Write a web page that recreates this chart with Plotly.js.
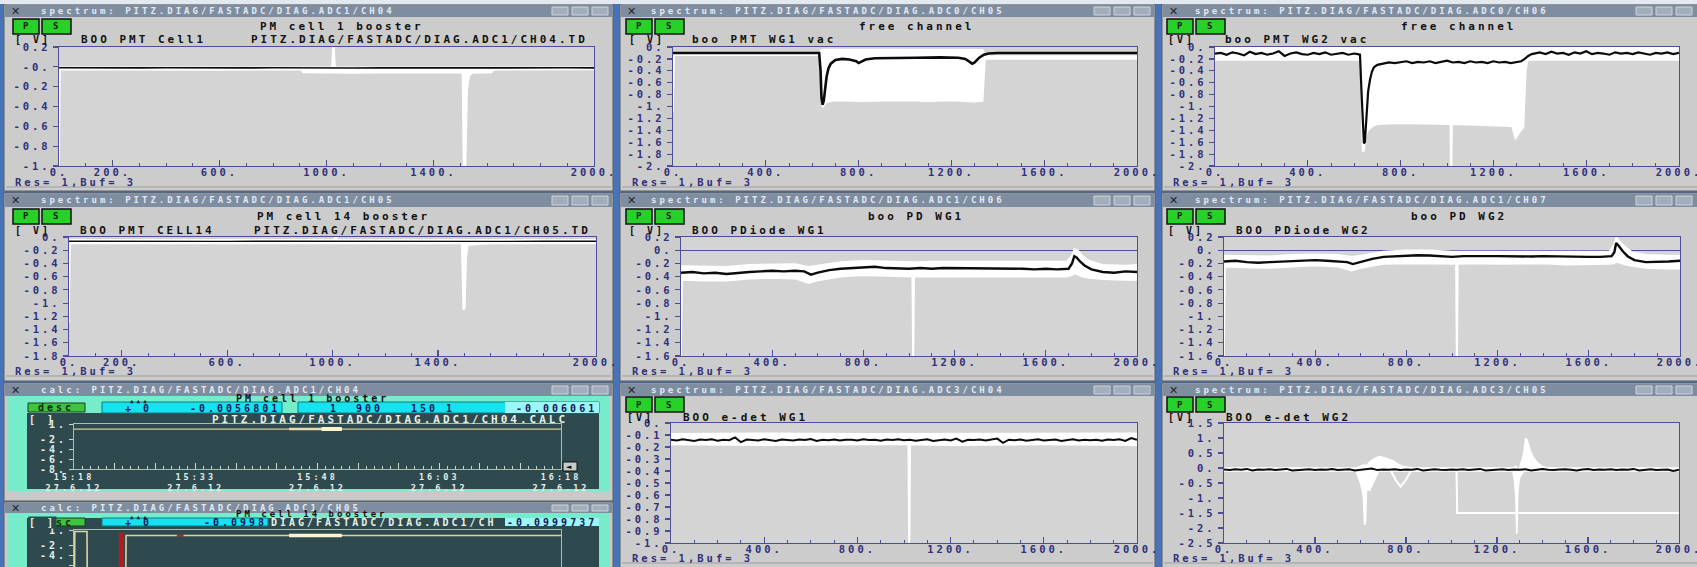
<!DOCTYPE html>
<html>
<head>
<meta charset="utf-8">
<script src="https://cdn.plot.ly/plotly-3.0.1.min.js"></script>
<style>
  html, body { margin: 0; padding: 0; background: #4774b8; overflow: hidden; }
  #chart { width: 1697px; height: 567px; }
  svg text { letter-spacing: 3px; white-space: pre; }
  .x7y7 .xtick text { letter-spacing: 0; }
</style>
</head>
<body>
<div id="chart"></div>
<script>
// ---------------- sample indices and recorded series ----------------
const sample25 = [0,25,50,75,100,125,150,175,200,225,250,275,300,325,350,375,400,425,450,475,500,525,550,575,600,625,650,675,700,725,750,775,800,825,850,875,900,925,950,975,1000,1025,1050,1075,1100,1125,1150,1175,1200,1225,1250,1275,1300,1325,1350,1375,1400,1425,1450,1475,1500,1525,1550,1575,1600,1625,1650,1675,1700,1725,1750,1775,1800,1825,1850,1875,1900,1925,1950,1975,2000];

// PM cell 1 booster
const p1X = [0,100,200,300,400,500,600,700,800,900,1000,1100,1200,1300,1400,1500,1600,1700,1800,1900,2000];
const p1Black = [-0.010,-0.012,-0.009,-0.011,-0.010,-0.012,-0.008,-0.011,-0.010,-0.013,-0.009,-0.012,-0.011,-0.010,-0.012,-0.009,-0.011,-0.010,-0.012,-0.010,-0.011];
const p1WX = [0,4,200,400,600,800,905,912,1000,1020,1024,1028,1032,1100,1200,1300,1400,1508,1512,1520,1526,1534,1545,1618,1625,1800,2000];
const p1WHi = [-0.004,-0.004,-0.005,-0.003,-0.005,-0.004,-0.004,-0.005,-0.004,-0.004,0.2,0.2,-0.004,-0.005,-0.004,-0.005,-0.004,-0.005,-0.005,-0.005,-0.005,-0.004,-0.005,-0.004,-0.004,-0.005,-0.004];
const p1WLo = [-1.0,-0.028,-0.03,-0.027,-0.031,-0.029,-0.03,-0.058,-0.062,-0.057,-0.06,-0.06,-0.058,-0.063,-0.059,-0.061,-0.058,-0.06,-1.0,-1.0,-0.22,-0.09,-0.062,-0.058,-0.029,-0.03,-0.028];

// free channel, boo PMT WG1 vac
const p2X = [0,100,200,300,400,500,600,630,636,640,645,650,656,662,670,680,700,730,760,790,800,810,830,870,950,1050,1150,1230,1260,1280,1290,1300,1320,1340,1360,1400,1500,1600,1700,1800,1900,2000];
const p2Black = [-0.1,-0.1,-0.101,-0.1,-0.099,-0.1,-0.1,-0.1,-0.4,-0.85,-0.97,-0.9,-0.7,-0.5,-0.36,-0.28,-0.22,-0.2,-0.21,-0.24,-0.27,-0.25,-0.21,-0.19,-0.18,-0.18,-0.175,-0.18,-0.2,-0.26,-0.28,-0.26,-0.18,-0.13,-0.11,-0.1,-0.1,-0.1,-0.1,-0.1,-0.1,-0.1];
const p2WX = [0,5,300,600,630,638,645,660,700,800,900,1000,1100,1200,1300,1335,1345,1400,1600,1800,2000];
const p2WHi = [-0.115,-0.115,-0.115,-0.115,-0.115,-0.05,-0.04,-0.04,-0.04,-0.045,-0.04,-0.04,-0.045,-0.04,-0.04,-0.045,-0.15,-0.15,-0.15,-0.15,-0.15];
const p2WLo = [-1.1,-0.14,-0.14,-0.14,-0.14,-0.6,-1.02,-0.93,-0.9,-0.91,-0.9,-0.9,-0.91,-0.9,-0.92,-0.91,-0.2,-0.2,-0.19,-0.2,-0.2];

// free channel, boo PMT WG2 vac
const p3X = [0,25,50,75,100,125,150,175,200,225,250,275,300,325,350,375,400,425,450,475,500,525,550,575,600,
  615,625,632,638,642,646,650,655,660,668,676,685,700,
  725,750,775,800,825,850,875,900,925,950,975,1000,1025,1050,1075,1100,1125,1150,1175,1200,1225,1250,1275,1300,
  1320,1335,1350,1365,
  1375,1400,1425,1450,1475,1500,1525,1550,1575,1600,1625,1650,1675,1700,1725,1750,1775,1800,1825,1850,1875,1900,1925,1950,1975,2000];
const p3Black = [-0.11,-0.1,-0.13,-0.09,-0.11,-0.14,-0.08,-0.12,-0.1,-0.13,-0.11,-0.07,-0.15,-0.11,-0.09,-0.12,-0.13,-0.1,-0.12,-0.09,-0.13,-0.11,-0.1,-0.13,-0.11,
  -0.12,-0.13,-0.8,-1.45,-1.62,-1.6,-1.3,-1.0,-0.75,-0.55,-0.42,-0.34,-0.3,
  -0.28,-0.26,-0.27,-0.25,-0.24,-0.27,-0.25,-0.26,-0.24,-0.27,-0.25,-0.23,-0.26,-0.25,-0.27,-0.24,-0.26,-0.25,-0.27,-0.24,-0.26,-0.25,-0.27,-0.25,
  -0.24,-0.2,-0.15,-0.12,
  -0.11,-0.09,-0.12,-0.08,-0.11,-0.1,-0.13,-0.09,-0.11,-0.07,-0.12,-0.1,-0.11,-0.13,-0.09,-0.11,-0.1,-0.12,-0.09,-0.11,-0.13,-0.1,-0.11,-0.09,-0.12,-0.1];
const p3WX = [0,600,628,636,642,650,660,680,700,800,900,1000,1014,1016,1020,1022,1100,1200,1280,1295,1310,1330,1340,1348,1500,1700,2000];
const p3WHi = [-0.01,-0.01,-0.01,-0.01,-0.01,-0.01,-0.01,-0.01,-0.01,-0.01,-0.01,-0.01,-0.01,-0.01,-0.01,-0.01,-0.01,-0.01,-0.01,-0.01,-0.01,-0.01,-0.01,-0.01,-0.01,-0.01,-0.01];
const p3WLo = [-0.22,-0.22,-0.22,-1.75,-1.75,-1.5,-1.4,-1.33,-1.3,-1.28,-1.29,-1.3,-1.3,-2.0,-2.0,-1.3,-1.31,-1.32,-1.33,-1.55,-1.45,-1.35,-0.4,-0.22,-0.22,-0.21,-0.22];

// PM cell 14 booster
const p4X = [0,200,400,600,800,1000,1200,1400,1600,1800,2000];
const p4Black = [-0.065,-0.068,-0.063,-0.066,-0.064,-0.067,-0.065,-0.063,-0.066,-0.065,-0.064];
const p4WX = [0,4,300,600,900,1005,1010,1014,1018,1200,1490,1496,1502,1508,1514,1600,1800,2000];
const p4WHi = [-0.04,-0.04,-0.045,-0.04,-0.045,-0.04,0,0,-0.04,-0.045,-0.04,-0.04,-0.04,-0.04,-0.045,-0.04,-0.045,-0.04];
const p4WLo = [-1.3,-0.1,-0.1,-0.095,-0.1,-0.1,-0.1,-0.1,-0.1,-0.1,-0.1,-1.1,-1.08,-0.3,-0.12,-0.1,-0.1,-0.1];

// boo PD WG1
const p5X = [0,50,100,150,200,250,300,350,400,450,500,540,570,600,650,700,750,800,850,900,950,1000,1050,1100,1150,1200,1250,1300,1350,1400,1450,1500,1550,1600,1650,1700,1715,1725,1735,1750,1770,1800,1850,1900,1950,2000];
const p5Black = [-0.34,-0.33,-0.35,-0.34,-0.36,-0.34,-0.33,-0.32,-0.31,-0.32,-0.31,-0.32,-0.37,-0.34,-0.3,-0.28,-0.27,-0.25,-0.25,-0.27,-0.28,-0.28,-0.27,-0.28,-0.27,-0.27,-0.28,-0.27,-0.28,-0.28,-0.27,-0.28,-0.29,-0.28,-0.29,-0.28,-0.2,-0.09,-0.11,-0.17,-0.23,-0.29,-0.33,-0.34,-0.32,-0.33];
const p5WX = [0,5,100,200,300,400,500,560,600,700,800,900,1000,1014,1017,1020,1023,1100,1200,1300,1400,1500,1600,1690,1715,1725,1740,1760,1790,1850,1950,2000];
const p5WHi = [-0.24,-0.24,-0.25,-0.25,-0.22,-0.21,-0.21,-0.25,-0.23,-0.18,-0.16,-0.17,-0.18,-0.18,-0.18,-0.18,-0.18,-0.17,-0.17,-0.18,-0.17,-0.18,-0.18,-0.17,-0.08,0.02,0.0,-0.08,-0.16,-0.22,-0.23,-0.22];
const p5WLo = [-1.6,-0.45,-0.46,-0.46,-0.43,-0.42,-0.43,-0.5,-0.46,-0.4,-0.38,-0.39,-0.4,-0.4,-1.6,-1.6,-0.4,-0.4,-0.39,-0.4,-0.39,-0.4,-0.4,-0.4,-0.38,-0.35,-0.37,-0.4,-0.42,-0.44,-0.45,-0.45];

// boo PD WG2
const p6X = [0,50,100,150,200,250,300,350,400,450,500,540,565,600,650,700,750,800,850,900,950,1000,1050,1100,1150,1200,1250,1300,1350,1400,1450,1500,1550,1600,1650,1700,1712,1720,1730,1750,1770,1800,1850,1900,1950,2000];
const p6Black = [-0.17,-0.16,-0.18,-0.19,-0.18,-0.17,-0.16,-0.15,-0.15,-0.16,-0.17,-0.18,-0.21,-0.18,-0.13,-0.1,-0.09,-0.08,-0.075,-0.08,-0.09,-0.1,-0.09,-0.085,-0.09,-0.09,-0.095,-0.09,-0.095,-0.09,-0.095,-0.1,-0.1,-0.1,-0.1,-0.09,-0.03,0.11,0.07,-0.02,-0.09,-0.15,-0.18,-0.18,-0.17,-0.16];
const p6WX = [0,5,100,200,300,400,500,560,600,700,800,900,1000,1017,1020,1023,1026,1100,1200,1300,1400,1500,1600,1690,1710,1720,1735,1760,1790,1850,1950,2000];
const p6WHi = [-0.08,-0.08,-0.09,-0.09,-0.07,-0.06,-0.07,-0.1,-0.08,-0.02,0.0,0.0,-0.02,-0.02,-0.02,-0.02,-0.02,-0.01,-0.01,-0.02,-0.02,-0.02,-0.02,-0.02,0.08,0.2,0.14,0.05,-0.03,-0.07,-0.08,-0.08];
const p6WLo = [-1.6,-0.25,-0.26,-0.27,-0.25,-0.23,-0.25,-0.31,-0.27,-0.21,-0.2,-0.2,-0.21,-0.21,-1.6,-1.6,-0.21,-0.2,-0.21,-0.21,-0.2,-0.22,-0.22,-0.21,-0.2,-0.18,-0.19,-0.22,-0.24,-0.27,-0.28,-0.28];

// BOO e-det WG1
const p8Black = [-0.14,-0.145,-0.135,-0.14,-0.15,-0.138,-0.142,-0.136,-0.148,-0.14,
  -0.143,-0.12,-0.16,-0.138,-0.14,-0.145,-0.135,-0.142,-0.15,-0.137,
  -0.14,-0.146,-0.138,-0.141,-0.134,-0.149,-0.14,-0.143,-0.137,-0.145,
  -0.14,-0.139,-0.146,-0.135,-0.142,-0.14,-0.148,-0.138,-0.141,-0.136,
  -0.143,-0.14,-0.147,-0.139,-0.135,-0.15,-0.141,-0.138,-0.145,-0.13,
  -0.155,-0.14,-0.142,-0.137,-0.146,-0.14,-0.13,-0.165,-0.139,-0.143,
  -0.137,-0.148,-0.14,-0.136,-0.145,-0.142,-0.138,-0.15,-0.14,-0.135,
  -0.146,-0.139,-0.143,-0.14,-0.148,-0.137,-0.142,-0.136,-0.15,-0.125,-0.14];
const p8WX = [0,400,800,1000,1018,1021,1024,1027,1200,1600,2000];
const p8WHi = [-0.09,-0.085,-0.09,-0.09,-0.09,-0.09,-0.09,-0.09,-0.085,-0.09,-0.085];
const p8WLo = [-0.18,-0.185,-0.18,-0.18,-0.18,-1.0,-1.0,-0.18,-0.185,-0.18,-0.185];

// BOO e-det WG2
const p9Black = [-0.05,-0.07,-0.04,-0.06,-0.03,-0.08,-0.05,-0.06,-0.04,-0.07,
  -0.05,-0.03,-0.08,-0.06,-0.05,-0.04,-0.07,-0.05,-0.06,-0.03,
  -0.07,-0.05,-0.04,-0.08,-0.06,-0.05,-0.02,-0.07,-0.05,-0.06,
  -0.04,-0.07,-0.05,-0.06,-0.03,-0.08,-0.05,-0.04,-0.06,-0.07,
  -0.05,-0.06,-0.04,-0.07,-0.05,-0.03,-0.08,-0.06,-0.05,-0.04,
  -0.07,-0.05,-0.06,-0.04,-0.08,-0.05,-0.03,-0.06,-0.07,-0.05,
  -0.04,-0.06,-0.08,-0.05,-0.03,-0.07,-0.05,-0.06,-0.04,-0.07,
  -0.05,-0.06,-0.03,-0.08,-0.05,-0.04,-0.07,-0.06,-0.05,-0.1,-0.06];
const p9WX = [0,580,600,612,618,622,626,630,640,660,680,700,720,740,760,775,790,810,830,1270,1278,1283,1287,1292,1300,1318,1325,1332,1345,1360,1380,1400,1420,2000];
const p9WHi = [0,0,0.05,0.1,0.05,0.1,0.05,0.1,0.2,0.3,0.38,0.35,0.3,0.25,0.15,0.08,0.05,0.03,0,0,0.02,0.05,0.02,-0.1,0,0.5,0.98,0.95,0.6,0.35,0.15,0.05,0,0];
const p9WLo = [-0.1,-0.1,-0.5,-0.9,-1.9,-1.8,-0.8,-0.7,-0.75,-0.45,-0.1,-0.1,-0.1,-0.1,-0.1,-0.1,-0.1,-0.1,-0.1,-0.1,-0.5,-1.0,-2.2,-0.7,-0.3,-0.1,-0.1,-0.1,-0.1,-0.1,-0.1,-0.1,-0.1,-0.1];
const p9BufX = [0,730,755,775,795,825,1022,1025,2000];
const p9BufY = [-0.03,-0.05,-0.4,-0.62,-0.45,-0.06,-0.06,-1.5,-1.5];

// calc history: PM cell 1 / PM cell 14 booster
const c1T = ['2012-06-27 15:18:00','2012-06-27 16:18:00'];
const c1V = [-0.0057,-0.0061];
const c1SegT = ['2012-06-27 15:44:30','2012-06-27 15:51:00'];
const c1SegV = [-0.006,-0.006];
const c1HotT = ['2012-06-27 15:48:30','2012-06-27 15:51:00'];
const c1HotV = [-0.006,-0.006];
const c2T = ['2012-06-27 15:18:00','2012-06-27 15:18:06','2012-06-27 15:19:36','2012-06-27 15:19:40','2012-06-27 15:24:20','2012-06-27 15:24:25','2012-06-27 16:18:00'];
const c2V = [-20,0.7,0.7,-20,-20,-0.1,-0.1];
const c2AlarmT = ['2012-06-27 15:23:50','2012-06-27 15:23:50'];
const c2AlarmV = [0.5,-20];
const c2MarkT = ['2012-06-27 15:30:40','2012-06-27 15:31:30'];
const c2MarkV = [-0.1,-0.1];
const c2SegT = ['2012-06-27 15:44:30','2012-06-27 15:51:00'];
const c2SegV = [-0.1,-0.1];

// ---------------- tick values and labels ----------------
const xTicks1 = [0,200,600,1000,1400,2000];
const xLabels1 = ['0.','200.','600.','1000.','1400.','2000.'];
const xTicks = [0,400,800,1200,1600,2000];
const xLabels = ['0.','400.','800.','1200.','1600.','2000.'];
const yT1 = [0.2,0,-0.2,-0.4,-0.6,-0.8,-1];
const yL1 = ['0.2','-0.','-0.2','-0.4','-0.6','-0.8','-1.'];
const yT2 = [0,-0.2,-0.4,-0.6,-0.8,-1,-1.2,-1.4,-1.6,-1.8,-2];
const yL2 = ['0.','-0.2','-0.4','-0.6','-0.8','-1.','-1.2','-1.4','-1.6','-1.8','-2.'];
const yT4 = [0,-0.2,-0.4,-0.6,-0.8,-1,-1.2,-1.4,-1.6,-1.8];
const yL4 = ['0.','-0.2','-0.4','-0.6','-0.8','-1.','-1.2','-1.4','-1.6','-1.8'];
const yT5 = [0.2,0,-0.2,-0.4,-0.6,-0.8,-1,-1.2,-1.4,-1.6];
const yL5 = ['0.2','0.','-0.2','-0.4','-0.6','-0.8','-1.','-1.2','-1.4','-1.6'];
const yT8 = [0,-0.1,-0.2,-0.3,-0.4,-0.5,-0.6,-0.7,-0.8,-0.9,-1];
const yL8 = ['0.','-0.1','-0.2','-0.3','-0.4','-0.5','-0.6','-0.7','-0.8','-0.9','-1.'];
const yT9 = [1.5,1,0.5,0,-0.5,-1,-1.5,-2,-2.5];
const yL9 = ['1.5','1.','0.5','0.','-0.5','-1.','-1.5','-2.','-2.5'];
const yTc = [1,-2,-4,-6,-8];
const yLc = ['1.','-2.','-4.','-6.','-8.'];
const calcTicks = ['2012-06-27 15:18','2012-06-27 15:23','2012-06-27 15:28','2012-06-27 15:33','2012-06-27 15:38','2012-06-27 15:43','2012-06-27 15:48','2012-06-27 15:53','2012-06-27 15:58','2012-06-27 16:03','2012-06-27 16:08','2012-06-27 16:13','2012-06-27 16:18'];
const calcLabels = ['15:18<br>27.6.12','','','15:33<br>27.6.12','','','15:48<br>27.6.12','','','16:03<br>27.6.12','','','16:18<br>27.6.12'];

// ---------------- drawing helpers ----------------
const W = 1697, H = 567;
const fx = p => p / W;
const fy = p => 1 - p / H;
const MONO = 'DejaVu Sans Mono, monospace';
const AX = '#4e4e96';
const TICK = '#30307e';
const WHITE = '#ffffff';
const LIGHT = '#e6efe8';

const traces = [];
const shapes = [];
const annotations = [];
const layout = {
  width: W, height: H, margin: {l: 0, r: 0, t: 0, b: 0},
  paper_bgcolor: '#4774b8', plot_bgcolor: 'rgba(0,0,0,0)',
  showlegend: false, hovermode: false, shapes, annotations
};

function rect(x0, y0, x1, y1, fill, line, lw) {
  shapes.push({type: 'rect', xref: 'paper', yref: 'paper', layer: 'below',
    x0: fx(x0), x1: fx(x1), y0: fy(y1), y1: fy(y0),
    fillcolor: fill || 'rgba(0,0,0,0)',
    line: {color: line || 'rgba(0,0,0,0)', width: line ? (lw || 1) : 0}});
}
function hline(x0, x1, y, color, w) {
  shapes.push({type: 'line', xref: 'paper', yref: 'paper', layer: 'below',
    x0: fx(x0), x1: fx(x1), y0: fy(y), y1: fy(y), line: {color, width: w || 1}});
}
function label(text, x, y, size, color, anchor, extra) {
  annotations.push(Object.assign({
    text, xref: 'paper', yref: 'paper', x: fx(x), y: fy(y),
    xanchor: anchor || 'left', yanchor: 'middle', showarrow: false, borderpad: 0,
    font: {family: MONO, size: size || 10, color: color || '#111', weight: 'bold'}
  }, extra || {}));
}
const sfx = n => (n === 1 ? '' : String(n));

function frame(x0, x1, tb, bot, body, caption, capX) {
  rect(x0, tb[0], x1, bot, body, '#5c5c5c', 1);
  rect(x0 + 1, tb[0] + 1, x1 - 1, tb[1], '#7f8da0');
  const mid = (tb[0] + tb[1]) / 2 + 0.5;
  label('✕', x0 + 6, mid, 10, '#262626', 'left', {font: {family: 'DejaVu Sans', size: 11, color: '#262626', weight: 'bold'}});
  label(caption, x0 + capX, mid, 9, '#e3e9f3');
  for (let k = 0; k < 3; k++) {
    const r = Math.min(x1, W) - 5 - k * 20;
    rect(r - 16, tb[0] + 3, r, tb[1] - 2, '#a3aebd', '#cdd3dc', 1);
  }
}

// ---------------- spectrum windows ----------------
const rows = [
  {tb: [4, 17], psY: [19, 34], titleY: 26, subY: 39, plot: [47, 166], resY: 182, status: 187, bot: 191},
  {tb: [193, 207], psY: [209, 224], titleY: 216, subY: 230, plot: [237, 356], resY: 371, status: 376, bot: 381},
  {tb: [383, 396], psY: [397, 412], titleY: 405, subY: 417, plot: [423, 543], resY: 558, status: 563, bot: 569}
];
const spectra = [
  {n: 1, row: 0, x0: 4, x1: 613, ps: 13, capX: 36, title: 'PM cell 1 booster', titleX: 342, unit: '[ V]', unitX: 14, name: 'BOO PMT Cell1', nameX: 80,
   path: 'PITZ.DIAG/FASTADC/DIAG.ADC1/CH04.TD', pathX: 250, resX: 14, box: [59, 594], caption: 'spectrum: PITZ.DIAG/FASTADC/DIAG.ADC1/CH04',
   yr: [-1, 0.2], yt: yT1, yl: yL1, xt: xTicks1, xl: xLabels1, white: {x: p1WX, lo: p1WLo, hi: p1WHi}, black: {x: p1X, y: p1Black}, bw: 1.6},
  {n: 2, row: 0, x0: 620, x1: 1155, ps: 626, capX: 30, title: 'free channel', titleX: 917, unit: '[ V]', unitX: 628, name: 'boo PMT WG1 vac', nameX: 691,
   resX: 631, box: [673, 1137], caption: 'spectrum: PITZ.DIAG/FASTADC/DIAG.ADC0/CH05',
   yr: [-2, 0], yt: yT2, yl: yL2, xt: xTicks, xl: xLabels, white: {x: p2WX, lo: p2WLo, hi: p2WHi}, black: {x: p2X, y: p2Black}, bw: 2.6},
  {n: 3, row: 0, x0: 1162, x1: 1700, ps: 1167, capX: 32, title: 'free channel', titleX: 1458, unit: '[V]', unitX: 1167, name: 'boo PMT WG2 vac', nameX: 1224,
   resX: 1172, box: [1215, 1679], caption: 'spectrum: PITZ.DIAG/FASTADC/DIAG.ADC0/CH06',
   yr: [-2, 0], yt: yT2, yl: yL2, xt: xTicks, xl: xLabels, white: {x: p3WX, lo: p3WLo, hi: p3WHi}, black: {x: p3X, y: p3Black}, bw: 2.2},
  {n: 4, row: 1, x0: 4, x1: 613, ps: 13, capX: 36, title: 'PM cell 14 booster', titleX: 343, unit: '[ V]', unitX: 14, name: 'BOO PMT CELL14', nameX: 79,
   path: 'PITZ.DIAG/FASTADC/DIAG.ADC1/CH05.TD', pathX: 253, resX: 14, box: [69, 596], caption: 'spectrum: PITZ.DIAG/FASTADC/DIAG.ADC1/CH05',
   yr: [-1.8, 0], yt: yT4, yl: yL4, xt: xTicks1, xl: xLabels1, white: {x: p4WX, lo: p4WLo, hi: p4WHi}, black: {x: p4X, y: p4Black}, bw: 1.4},
  {n: 5, row: 1, x0: 620, x1: 1155, ps: 626, capX: 30, title: 'boo PD WG1', titleX: 916, unit: '[ V]', unitX: 628, name: 'BOO PDiode WG1', nameX: 691,
   resX: 631, box: [681, 1137], caption: 'spectrum: PITZ.DIAG/FASTADC/DIAG.ADC1/CH06', zero: true,
   yr: [-1.6, 0.2], yt: yT5, yl: yL5, xt: xTicks, xl: xLabels, white: {x: p5WX, lo: p5WLo, hi: p5WHi}, black: {x: p5X, y: p5Black}, bw: 2.4},
  {n: 6, row: 1, x0: 1162, x1: 1700, ps: 1167, capX: 32, title: 'boo PD WG2', titleX: 1459, unit: '[ V]', unitX: 1167, name: 'BOO PDiode WG2', nameX: 1235,
   resX: 1172, box: [1224, 1680], caption: 'spectrum: PITZ.DIAG/FASTADC/DIAG.ADC1/CH07', zero: true,
   yr: [-1.6, 0.2], yt: yT5, yl: yL5, xt: xTicks, xl: xLabels, white: {x: p6WX, lo: p6WLo, hi: p6WHi}, black: {x: p6X, y: p6Black}, bw: 2.4},
  {n: 8, row: 2, x0: 620, x1: 1155, ps: 626, capX: 30, title: '', unit: '[V]', unitX: 626, name: 'BOO e-det WG1', nameX: 682,
   resX: 631, box: [671, 1137], caption: 'spectrum: PITZ.DIAG/FASTADC/DIAG.ADC3/CH04',
   yr: [-1, 0], yt: yT8, yl: yL8, xt: xTicks, xl: xLabels, white: {x: p8WX, lo: p8WLo, hi: p8WHi}, black: {x: sample25, y: p8Black}, bw: 2},
  {n: 9, row: 2, x0: 1162, x1: 1700, ps: 1167, capX: 32, title: '', unit: '[V]', unitX: 1167, name: 'BOO e-det WG2', nameX: 1225,
   resX: 1172, box: [1224, 1679], caption: 'spectrum: PITZ.DIAG/FASTADC/DIAG.ADC3/CH05',
   yr: [-2.5, 1.5], yt: yT9, yl: yL9, xt: xTicks, xl: xLabels, white: {x: p9WX, lo: p9WLo, hi: p9WHi}, extra: [{x: p9BufX, y: p9BufY}],
   black: {x: sample25, y: p9Black}, bw: 2}
];

const tickFont = {family: MONO, size: 10.5, color: TICK, weight: 'bold'};

spectra.forEach(s => {
  const r = rows[s.row];
  frame(s.x0, s.x1, r.tb, r.bot, '#cccccc', s.caption, s.capX);
  hline(s.x0 + 2, s.x1 - 2, r.status, '#9c9c9c', 1);
  // P / S buttons
  rect(s.ps, r.psY[0], s.ps + 26, r.psY[1], '#27d127', '#111111', 1.5);
  rect(s.ps + 29, r.psY[0], s.ps + 58, r.psY[1], '#27d127', '#111111', 1.5);
  label('P', s.ps + 14, (r.psY[0] + r.psY[1]) / 2, 9, '#142014', 'center');
  label('S', s.ps + 44, (r.psY[0] + r.psY[1]) / 2, 9, '#142014', 'center');
  if (s.title) label(s.title, s.titleX, r.titleY, 11, '#111', 'center');
  label(s.unit, s.unitX, r.subY, 10, '#111');
  label(s.name, s.nameX, r.subY, 11, '#111');
  if (s.path) label(s.path, s.pathX, r.subY, 11, '#111');
  label('Res= 1,Buf= 3', s.resX, r.resY, 10.5, TICK);
  // plot area
  rect(s.box[0], r.plot[0], s.box[1], r.plot[1], '#d4d4d4');

  const k = sfx(s.n);
  layout['xaxis' + k] = {
    domain: [fx(s.box[0]), fx(s.box[1])], range: [0, 2000], anchor: 'y' + k,
    showline: true, mirror: true, linecolor: AX, linewidth: 1.2,
    showgrid: false, zeroline: false, fixedrange: true,
    tickmode: 'array', tickvals: s.xt, ticktext: s.xl, tickangle: 0,
    ticklabeloverflow: 'allow', ticklabelstandoff: -4,
    ticks: 'inside', ticklen: 6, tickwidth: 1.2, tickcolor: AX,
    minor: {tickmode: 'linear', tick0: 0, dtick: 100, ticks: 'inside', ticklen: 3, tickwidth: 1, tickcolor: AX, showgrid: false},
    tickfont: tickFont
  };
  layout['yaxis' + k] = {
    domain: [fy(r.plot[1]), fy(r.plot[0])], range: s.yr, anchor: 'x' + k,
    showline: true, mirror: true, linecolor: AX, linewidth: 1.2,
    showgrid: false, zeroline: !!s.zero, zerolinecolor: AX, zerolinewidth: 1, fixedrange: true,
    tickmode: 'array', tickvals: s.yt, ticktext: s.yl, ticklabeloverflow: 'allow',
    ticks: 'outside', ticklen: 5, tickwidth: 1.2, tickcolor: AX,
    tickfont: tickFont
  };

  const base = {xaxis: 'x' + k, yaxis: 'y' + k, mode: 'lines', hoverinfo: 'skip'};
  traces.push(Object.assign({}, base, {x: s.white.x, y: s.white.lo, line: {color: WHITE, width: 1.5}}));
  traces.push(Object.assign({}, base, {x: s.white.x, y: s.white.hi, line: {color: WHITE, width: 1.5}, fill: 'tonexty', fillcolor: WHITE}));
  (s.extra || []).forEach(e => traces.push(Object.assign({}, base, {x: e.x, y: e.y, line: {color: WHITE, width: 2}})));
  traces.push(Object.assign({}, base, {x: s.black.x, y: s.black.y, line: {color: '#0b0b0b', width: s.bw}}));
});

// ---------------- calc windows (history of the PMT cells) ----------------
const calcBox = [74, 561];
function calcChrome(c) {
  frame(4, 613, c.tb, c.bot, '#c9c9c9', c.caption, 36);
  rect(7, c.tb[1], 610, c.mintBot, '#76eccb');
  rect(27, c.dark[0], 599, c.dark[1], '#2e4a4f');
}

// first calc window
calcChrome({tb: [383, 396], bot: 501, mintBot: 491, dark: [413, 489], caption: 'calc: PITZ.DIAG/FASTADC/DIAG.ADC1/CH04'});
label('PM cell 1 booster', 312, 398.5, 10, '#111', 'center');
rect(28, 403, 85, 412, '#3fc43f', '#1c3c1c', 1);
label('desc', 56, 407.5, 10, '#0b2a0b', 'center');
rect(102, 402, 282, 413, '#16e2f0', '#0b7b83', 1);
label('▲▲▲', 140, 400.5, 6, '#223', 'center');
label('+ 0', 124, 408, 10, '#14145a');
label('-0.0056801', 281, 408, 10, '#14145a', 'right');
rect(298, 402, 599, 413, '#16e2f0', '#0b7b83', 1);
rect(505, 402, 599, 413, '#9cf5f7');
label('1', 334, 408, 10, '#14145a', 'center');
label('900', 369, 408, 10, '#14145a', 'center');
label('150', 424, 408, 10, '#14145a', 'center');
label('1', 450, 408, 10, '#14145a', 'center');
label('-0.006061', 598, 408, 10, '#14145a', 'right');
label('[ ]', 28, 419, 10, LIGHT);
label('PITZ.DIAG/FASTADC/DIAG.ADC1/CH04.CALC', 569, 419, 11, LIGHT, 'right');
rect(563, 462, 577, 471, '#c3cbcb', '#111', 1);
label('◄', 570, 466.5, 7, '#111', 'center', {font: {family: 'DejaVu Sans', size: 7, color: '#111'}});

// second calc window (partly off screen)
calcChrome({tb: [502, 513], bot: 570, mintBot: 570, dark: [518, 570], caption: 'calc: PITZ.DIAG/FASTADC/DIAG.ADC1/CH05'});
label('PM cell 14 booster', 312, 514, 9, '#111', 'center');
rect(28, 518, 85, 526, '#3fc43f', '#1c3c1c', 1);
label('desc', 56, 522, 10, '#0b2a0b', 'center');
label('[ ]', 28, 522, 10, LIGHT, 'left', {bgcolor: '#2e4a4f'});
rect(102, 518, 268, 526, '#16e2f0', '#0b7b83', 1);
label('▲▲▲', 140, 516, 6, '#223', 'center');
label('+ 0', 124, 522, 10, '#14145a');
label('-0.0998', 268, 522, 10, '#14145a', 'right');
label('DIAG/FASTADC/DIAG.ADC1/CH', 270, 522, 10, LIGHT);
rect(505, 518, 599, 526, '#9cf5f7');
label('-0.0999737', 598, 522, 10, '#14145a', 'right');

const calcTickFont = {family: MONO, size: 10, color: LIGHT, weight: 'bold'};
layout.xaxis7 = {
  type: 'date', domain: [fx(calcBox[0]), fx(calcBox[1])], anchor: 'y7',
  range: ['2012-06-27 15:18', '2012-06-27 16:18'],
  showline: true, mirror: true, linecolor: '#a6bfae', linewidth: 1,
  showgrid: false, zeroline: false, fixedrange: true,
  tickmode: 'array', tickvals: calcTicks, ticktext: calcLabels, tickangle: 0,
  ticklabeloverflow: 'allow', ticklabelstandoff: 0,
  ticks: 'inside', ticklen: 6, tickcolor: '#c9d8cc',
  minor: {tickmode: 'linear', tick0: '2012-06-27 15:18', dtick: 60000, ticks: 'inside', ticklen: 3, tickcolor: '#c9d8cc', showgrid: false},
  tickfont: {family: MONO, size: 8.5, color: LIGHT, weight: 'bold'}
};
layout.yaxis7 = {
  domain: [fy(469), fy(424)], range: [-8, 1], anchor: 'x7',
  showline: true, mirror: true, linecolor: '#a6bfae', linewidth: 1,
  showgrid: false, zeroline: false, fixedrange: true,
  tickmode: 'array', tickvals: yTc, ticktext: yLc, ticks: 'outside', ticklen: 4, tickcolor: '#c9d8cc',
  tickfont: calcTickFont
};
layout.xaxis10 = {
  type: 'date', domain: [fx(calcBox[0]), fx(calcBox[1])], anchor: 'y10',
  range: ['2012-06-27 15:18', '2012-06-27 16:18'],
  showline: true, mirror: true, linecolor: '#a6bfae', linewidth: 1,
  showgrid: false, zeroline: false, fixedrange: true, showticklabels: false, ticks: ''
};
layout.yaxis10 = {
  domain: [0, fy(530)], range: [-6.4, 1], anchor: 'x10',
  showline: true, mirror: true, linecolor: '#a6bfae', linewidth: 1,
  showgrid: false, zeroline: false, fixedrange: true,
  tickmode: 'array', tickvals: yTc, ticktext: yLc, ticks: 'outside', ticklen: 4, tickcolor: '#c9d8cc',
  tickfont: calcTickFont
};

const c7 = {xaxis: 'x7', yaxis: 'y7', mode: 'lines', hoverinfo: 'skip'};
traces.push(Object.assign({}, c7, {x: c1T, y: c1V, line: {color: '#d9c99a', width: 1.2}}));
traces.push(Object.assign({}, c7, {x: c1SegT, y: c1SegV, line: {color: '#e8dbb4', width: 2.5}}));
traces.push(Object.assign({}, c7, {x: c1HotT, y: c1HotV, line: {color: '#fff2cf', width: 4}}));
const c10 = {xaxis: 'x10', yaxis: 'y10', mode: 'lines', hoverinfo: 'skip'};
traces.push(Object.assign({}, c10, {x: c2T, y: c2V, line: {color: '#e2d3a6', width: 1.6}}));
traces.push(Object.assign({}, c10, {x: c2AlarmT, y: c2AlarmV, line: {color: '#b31c1c', width: 5}}));
traces.push(Object.assign({}, c10, {x: c2MarkT, y: c2MarkV, line: {color: '#7a3a3a', width: 3}}));
traces.push(Object.assign({}, c10, {x: c2SegT, y: c2SegV, line: {color: '#fff2cf', width: 3.5}}));

// light strip along the top screen edge
rect(0, 0, W, 4, '#e3e9f1');

Plotly.newPlot('chart', traces, layout, {staticPlot: true, displayModeBar: false});
</script>
</body>
</html>
